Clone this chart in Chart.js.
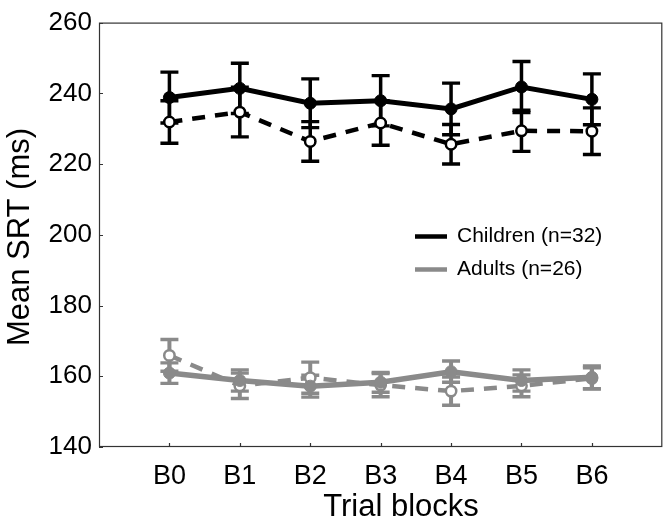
<!DOCTYPE html>
<html>
<head>
<meta charset="utf-8">
<script src="https://cdn.jsdelivr.net/npm/chart.js@4"></script>
<style>
  html, body { margin: 0; padding: 0; background: #fff; }
  #wrap { width: 670px; height: 527px; }
</style>
</head>
<body>
<div id="wrap"><canvas id="c" width="670" height="527"></canvas></div>
<script>
// ---- Data ----
const blocks = ['B0', 'B1', 'B2', 'B3', 'B4', 'B5', 'B6'];
const yTicks = [140, 160, 180, 200, 220, 240, 260];

const childrenSolid    = [238.8, 241.4, 237.2, 237.9, 235.6, 241.8, 238.3];
const childrenSolidErr = [7.2, 7.1, 6.9, 7.1, 7.3, 7.2, 7.2];
const childrenDashed    = [231.9, 234.7, 226.4, 231.6, 225.6, 229.4, 229.3];
const childrenDashedErr = [6.0, 7.0, 5.6, 6.3, 5.6, 5.8, 6.6];

const adultsSolid    = [160.9, 158.8, 157.2, 158.3, 161.3, 158.8, 159.7];
const adultsSolidErr = [2.9, 3.0, 3.1, 2.8, 3.0, 3.0, 3.2];
const adultsDashed    = [165.9, 157.3, 159.6, 157.5, 155.8, 157.3, 159.4];
const adultsDashedErr = [4.5, 3.6, 4.4, 3.3, 4.0, 3.1, 3.0];

const legendLabels = ['Children (n=32)', 'Adults (n=26)'];
const xTitle = 'Trial blocks';
const yTitle = 'Mean SRT (ms)';

// ---- Styles ----
const BLACK = '#000000';
const GRAY = '#8a8a8a';
const FONT = '"Liberation Sans", Arial, sans-serif';

const toPts = arr => arr.map((v, i) => ({ x: i, y: v }));

function lineDs(label, vals, color, dashed, width) {
  return {
    label,
    data: toPts(vals),
    borderColor: color,
    borderWidth: width,
    borderDash: dashed ? [13, 10] : [],
    tension: 0,
    fill: false,
    pointRadius: dashed ? 5.2 : 6,
    pointBorderWidth: dashed ? 2.5 : 1,
    pointBorderColor: color,
    pointBackgroundColor: dashed ? '#ffffff' : color,
    pointHoverRadius: dashed ? 5.2 : 6
  };
}

const errGroups = [
  { vals: childrenSolid,  errs: childrenSolidErr,  color: BLACK, w: 3.5 },
  { vals: childrenDashed, errs: childrenDashedErr, color: BLACK, w: 3.5 },
  { vals: adultsSolid,    errs: adultsSolidErr,    color: GRAY,  w: 4 },
  { vals: adultsDashed,   errs: adultsDashedErr,   color: GRAY,  w: 4 }
];

const overlay = {
  id: 'overlay',
  beforeDatasetsDraw(chart) {
    const { ctx, scales: { x, y } } = chart;
    ctx.save();
    ctx.lineCap = 'butt';
    errGroups.forEach(g => {
      ctx.strokeStyle = g.color;
      g.vals.forEach((v, i) => {
        const px = x.getPixelForValue(i);
        const pt = y.getPixelForValue(v + g.errs[i]);
        const pb = y.getPixelForValue(v - g.errs[i]);
        ctx.lineWidth = g.w;
        ctx.beginPath();
        ctx.moveTo(px, pt); ctx.lineTo(px, pb);
        ctx.stroke();
        ctx.lineWidth = 3.4;
        ctx.beginPath();
        ctx.moveTo(px - 9, pt); ctx.lineTo(px + 9, pt);
        ctx.moveTo(px - 9, pb); ctx.lineTo(px + 9, pb);
        ctx.stroke();
      });
    });
    ctx.restore();
  },
  afterDraw(chart) {
    const { ctx, chartArea: a, scales: { x, y } } = chart;
    ctx.save();
    // frame
    ctx.strokeStyle = '#333333';
    ctx.lineWidth = 1.2;
    ctx.strokeRect(a.left + 0.5, a.top + 0.5, a.right - a.left - 1, a.bottom - a.top - 1);
    // inward ticks
    ctx.beginPath();
    blocks.forEach((b, i) => {
      const px = Math.round(x.getPixelForValue(i)) + 0.5;
      ctx.moveTo(px, a.bottom); ctx.lineTo(px, a.bottom - 4);
    });
    yTicks.forEach(t => {
      const py = Math.round(y.getPixelForValue(t)) + 0.5;
      ctx.moveTo(a.left, py); ctx.lineTo(a.left + 4, py);
    });
    ctx.stroke();
    // legend
    const items = [
      { label: legendLabels[0], color: BLACK, yy: 236.5 },
      { label: legendLabels[1], color: GRAY,  yy: 269.5 }
    ];
    ctx.font = '21px ' + FONT;
    ctx.textBaseline = 'middle';
    ctx.textAlign = 'left';
    items.forEach(it => {
      ctx.strokeStyle = it.color;
      ctx.lineWidth = 4.5;
      ctx.beginPath();
      ctx.moveTo(415, it.yy); ctx.lineTo(447, it.yy);
      ctx.stroke();
      ctx.fillStyle = '#000';
      ctx.fillText(it.label, 457, it.yy);
    });
    // axis titles
    ctx.fillStyle = '#000';
    ctx.font = '31px ' + FONT;
    ctx.textAlign = 'center';
    ctx.textBaseline = 'middle';
    ctx.fillText(xTitle, 401, 507);
    ctx.translate(20, 237);
    ctx.rotate(-Math.PI / 2);
    ctx.fillText(yTitle, 0, 0);
    ctx.restore();
  }
};

new Chart(document.getElementById('c'), {
  type: 'line',
  data: {
    datasets: [
      lineDs('Children', childrenSolid, BLACK, false, 5),
      lineDs('Children (dashed)', childrenDashed, BLACK, true, 4.5),
      lineDs('Adults', adultsSolid, GRAY, false, 5.5),
      lineDs('Adults (dashed)', adultsDashed, GRAY, true, 4.5)
    ]
  },
  options: {
    responsive: false,
    devicePixelRatio: 1,
    animation: false,
    layout: { padding: { top: 13, right: 5, left: 0, bottom: 0 } },
    plugins: { legend: { display: false }, tooltip: { enabled: false } },
    events: [],
    scales: {
      x: {
        type: 'linear',
        min: -1, max: 7,
        afterFit: s => { s.height = 80; },
        afterBuildTicks: s => { s.ticks = blocks.map((b, i) => ({ value: i })); },
        grid: { drawOnChartArea: false, drawTicks: false },
        border: { display: false },
        ticks: {
          padding: 13,
          color: '#000',
          font: { family: FONT, size: 27 },
          callback: v => blocks[v] ?? ''
        }
      },
      y: {
        min: 140, max: 260,
        afterFit: s => { s.width = 99; },
        afterBuildTicks: s => { s.ticks = yTicks.map(v => ({ value: v })); },
        grid: { drawOnChartArea: false, drawTicks: false },
        border: { display: false },
        ticks: {
          padding: 7,
          color: '#000',
          font: { family: FONT, size: 26 }
        }
      }
    }
  },
  plugins: [overlay]
});
</script>
</body>
</html>
